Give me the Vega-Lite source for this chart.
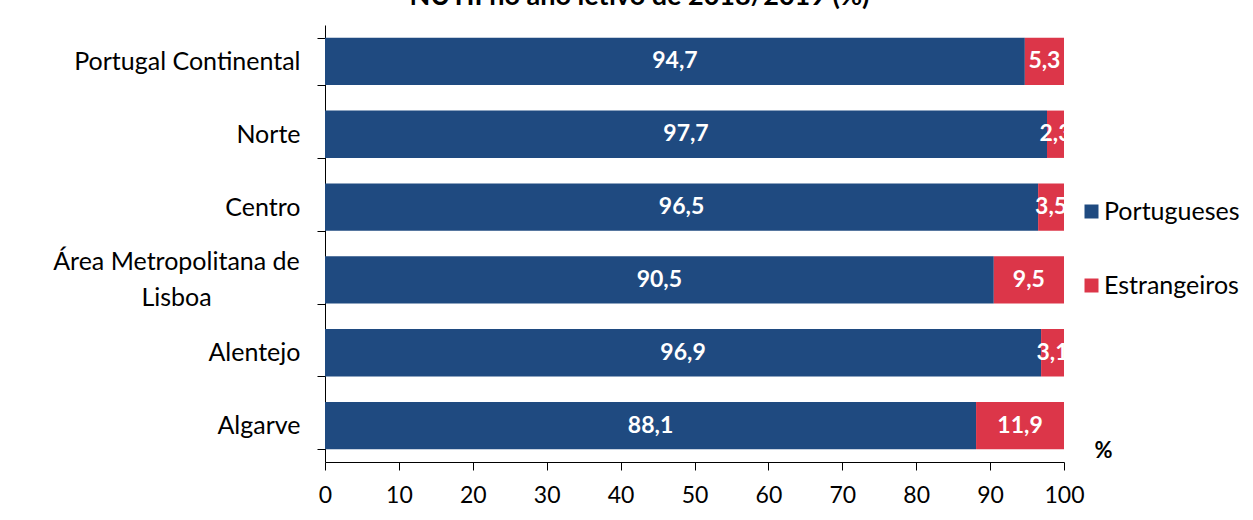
{
  "$schema": "https://vega.github.io/schema/vega-lite/v6.json",
  "autosize": "none",
  "width": 739,
  "height": 437,
  "padding": {"left": 325, "top": 25, "right": 189, "bottom": 58},
  "config": {
    "font": "Lato",
    "view": {"stroke": null}
  },
  "title": {
    "text": "NUTII no ano letivo de 2018/2019 (%)",
    "fontSize": 27,
    "fontWeight": "bold",
    "color": "#000000",
    "frame": "group",
    "anchor": "middle",
    "baseline": "alphabetic",
    "offset": 3,
    "dx": -55,
    "dy": 22
  },
  "data": {
    "values": [
      {"region": "Portugal Continental", "nat": "Portugueses", "value": 94.7},
      {"region": "Portugal Continental", "nat": "Estrangeiros", "value": 5.3},
      {"region": "Norte", "nat": "Portugueses", "value": 97.7},
      {"region": "Norte", "nat": "Estrangeiros", "value": 2.3},
      {"region": "Centro", "nat": "Portugueses", "value": 96.5},
      {"region": "Centro", "nat": "Estrangeiros", "value": 3.5},
      {"region": "Área Metropolitana de Lisboa", "nat": "Portugueses", "value": 90.5},
      {"region": "Área Metropolitana de Lisboa", "nat": "Estrangeiros", "value": 9.5},
      {"region": "Alentejo", "nat": "Portugueses", "value": 96.9},
      {"region": "Alentejo", "nat": "Estrangeiros", "value": 3.1},
      {"region": "Algarve", "nat": "Portugueses", "value": 88.1},
      {"region": "Algarve", "nat": "Estrangeiros", "value": 11.9}
    ]
  },
  "transform": [
    {"calculate": "datum.nat == 'Portugueses' ? 0 : 1", "as": "ord"},
    {"calculate": "replace(format(datum.value, '.1f'), '.', ',')", "as": "lbl"}
  ],
  "encoding": {
    "y": {
      "field": "region",
      "type": "nominal",
      "sort": null,
      "scale": {"paddingInner": 0.35, "paddingOuter": 0.175},
      "axis": {
        "title": null,
        "tickBand": "extent",
        "domainColor": "#000000",
        "tickColor": "#000000",
        "tickSize": 8,
        "labelFontSize": 25,
        "labelColor": "#000000",
        "labelLineHeight": 36,
        "labelLimit": 400,
        "labelExpr": "datum.label == 'Área Metropolitana de Lisboa' ? ['Área Metropolitana de', 'Lisboa'] : datum.label",
        "labelAlign": {"condition": {"test": "datum.value == 'Área Metropolitana de Lisboa'", "value": "center"}, "value": "right"},
        "labelPadding": {"condition": {"test": "datum.value == 'Área Metropolitana de Lisboa'", "value": 141}, "value": 17},
        "labelOffset": {"condition": {"test": "datum.value == 'Área Metropolitana de Lisboa'", "value": -18}, "value": 0}
      }
    }
  },
  "layer": [
    {
      "mark": {"type": "bar"},
      "encoding": {
        "x": {
          "field": "value",
          "type": "quantitative",
          "stack": "zero",
          "scale": {"domain": [0, 100], "nice": false},
          "axis": {
            "values": [0, 10, 20, 30, 40, 50, 60, 70, 80, 90, 100],
            "grid": false,
            "domainColor": "#000000",
            "tickColor": "#000000",
            "tickSize": 8,
            "labelFontSize": 23,
            "labelColor": "#000000",
            "labelPadding": 14,
            "labelFlush": false,
            "title": "%",
            "titleFontSize": 22,
            "titleFontWeight": "bold",
            "titleColor": "#000000",
            "titleX": 778,
            "titleY": -5,
            "titleAlign": "center",
            "titleBaseline": "alphabetic"
          }
        },
        "color": {
          "field": "nat",
          "type": "nominal",
          "sort": ["Portugueses", "Estrangeiros"],
          "scale": {"domain": ["Portugueses", "Estrangeiros"], "range": ["#1F4A80", "#DC3649"]},
          "legend": {
            "title": null,
            "orient": "none",
            "legendX": 754,
            "legendY": 174,
            "padding": 0,
            "symbolType": "square",
            "symbolSize": 196,
            "symbolStrokeWidth": 0,
            "symbolOffset": 0,
            "labelFontSize": 25,
            "labelColor": "#000000",
            "labelOffset": 0,
            "rowPadding": 48
          }
        },
        "order": {"field": "ord", "type": "quantitative"}
      }
    },
    {
      "mark": {"type": "text", "color": "#FFFFFF", "fontSize": 23, "fontWeight": "bold", "baseline": "middle", "align": "center"},
      "encoding": {
        "x": {"field": "value", "type": "quantitative", "stack": "zero", "bandPosition": 0.5},
        "detail": {"field": "nat"},
        "order": {"field": "ord", "type": "quantitative"},
        "text": {"field": "lbl"}
      }
    }
  ]
}
